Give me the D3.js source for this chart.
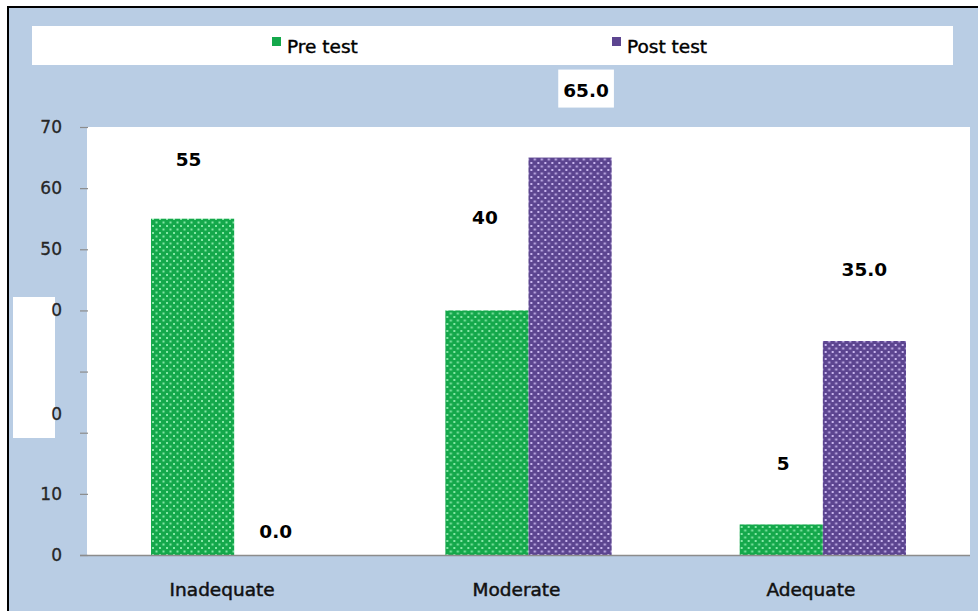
<!DOCTYPE html>
<html>
<head>
<meta charset="utf-8">
<script src="https://cdn.jsdelivr.net/npm/d3@7"></script>
<style>
  html, body { margin: 0; padding: 0; background: #ffffff; }
  svg { display: block; }
</style>
</head>
<body>
<svg id="chart" width="978" height="611"></svg>
<script>
// ---- data ----
const categories = ["Inadequate", "Moderate", "Adequate"];
const seriesNames = ["Pre test", "Post test"];
const preTest = [55, 40, 5];
const postTest = [0.0, 65.0, 35.0];
const preLabels = ["55", "40", "5"];
const postLabels = ["0.0", "65.0", "35.0"];
const yTickValues = [0, 10, 20, 30, 40, 50, 60, 70];
const yTickLabels = ["0", "10", "0", "", "0", "50", "60", "70"];

// ---- layout ----
const W = 978, H = 611;
const plot = { left: 87, right: 970, top: 127, bottom: 555 };
const colors = { pre: "#14a84b", preDot: "#86e7a6", post: "#5c4590", postDot: "#c9b6ee" };
const FONT = "DejaVu Sans, sans-serif";
// hand-placed data-label nudges [dx, dy from bar top]
const preLabelNudge = [[-4, -53], [-2, -86], [2, -54]];
const postLabelNudge = [[0, -17], [16, -61], [0, -65]];
// tick label vertical nudges (label for 20 sits a bit higher)
const tickNudge = { 20: -19 };

const svg = d3.select("#chart");

// dotted fills
const defs = svg.append("defs");
function dotPattern(id, base, dot) {
  const s = 7;
  const p = defs.append("pattern").attr("id", id)
    .attr("patternUnits", "userSpaceOnUse").attr("width", s).attr("height", s);
  p.append("rect").attr("width", s).attr("height", s).attr("fill", base);
  p.append("rect").attr("x", 1).attr("y", 1).attr("width", 2).attr("height", 2).attr("fill", dot);
  p.append("rect").attr("x", 4.5).attr("y", 4.5).attr("width", 2).attr("height", 2).attr("fill", dot);
}
dotPattern("dotsPre", colors.pre, colors.preDot);
dotPattern("dotsPost", colors.post, colors.postDot);

// chart background with frame on top/left
svg.append("rect").attr("x", 8).attr("y", 7).attr("width", W - 8).attr("height", H - 7)
  .attr("fill", "#b9cde4");
svg.append("line").attr("x1", 7).attr("x2", W).attr("y1", 7).attr("y2", 7)
  .attr("stroke", "#000").attr("stroke-width", 2);
svg.append("line").attr("x1", 8).attr("x2", 8).attr("y1", 6).attr("y2", H)
  .attr("stroke", "#000").attr("stroke-width", 2);

// plot area
svg.append("rect").attr("x", plot.left).attr("y", plot.top)
  .attr("width", plot.right - plot.left).attr("height", plot.bottom - plot.top)
  .attr("fill", "#ffffff");

// scales
const x0 = d3.scaleBand().domain(categories).range([plot.left, plot.right])
  .paddingInner(0.435).paddingOuter(0.2175);
const x1 = d3.scaleBand().domain(seriesNames).range([0, x0.bandwidth()]);
const y = d3.scaleLinear().domain([0, 70]).range([plot.bottom, plot.top]);

// white patch over part of the value labels
svg.append("rect").attr("x", 13).attr("y", 297).attr("width", 42).attr("height", 141)
  .attr("fill", "#ffffff");

// y axis
const yAxis = d3.axisLeft(y).tickValues(yTickValues)
  .tickFormat((d, i) => yTickLabels[i]).tickSize(8).tickPadding(18);
const gy = svg.append("g").attr("transform", `translate(${plot.left + 1},0)`).call(yAxis);
gy.select(".domain").remove();
gy.selectAll(".tick line").attr("stroke", "#8c8c8c").attr("stroke-width", 1.2);
gy.selectAll(".tick text")
  .attr("font-family", FONT).attr("font-size", 17)
  .attr("fill", "#262626").attr("stroke", "#262626").attr("stroke-width", 0.3)
  .attr("transform", d => tickNudge[d] ? `translate(0,${tickNudge[d]})` : null);

// bars
const rows = categories.map((c, i) => ({ cat: c, pre: preTest[i], post: postTest[i], i }));
const groups = svg.append("g").selectAll("g").data(rows).join("g")
  .attr("transform", d => `translate(${x0(d.cat)},0)`);
groups.append("rect")
  .attr("x", x1("Pre test")).attr("width", x1.bandwidth())
  .attr("y", d => y(d.pre)).attr("height", d => y(0) - y(d.pre))
  .attr("fill", "url(#dotsPre)");
groups.append("rect")
  .attr("x", x1("Post test")).attr("width", x1.bandwidth())
  .attr("y", d => y(d.post)).attr("height", d => y(0) - y(d.post))
  .attr("fill", "url(#dotsPost)");

// baseline
svg.append("line").attr("x1", plot.left - 7).attr("x2", plot.right)
  .attr("y1", plot.bottom + 0.5).attr("y2", plot.bottom + 0.5)
  .attr("stroke", "#8c8c8c").attr("stroke-width", 1.5);

// data labels
function addLabel(text, cx, by) {
  const g = svg.append("g");
  const t = g.append("text").attr("x", cx).attr("y", by).attr("text-anchor", "middle")
    .attr("font-family", FONT).attr("font-weight", "bold")
    .attr("font-size", 18.5).attr("fill", "#000").text(text);
  const bb = t.node().getBBox();
  g.insert("rect", "text").attr("x", bb.x - 5).attr("y", bb.y - 10)
    .attr("width", bb.width + 10).attr("height", bb.height + 17).attr("fill", "#ffffff");
}
rows.forEach((d, i) => {
  addLabel(preLabels[i],
    x0(d.cat) + x1("Pre test") + x1.bandwidth() / 2 + preLabelNudge[i][0],
    y(d.pre) + preLabelNudge[i][1]);
  addLabel(postLabels[i],
    x0(d.cat) + x1("Post test") + x1.bandwidth() / 2 + postLabelNudge[i][0],
    y(d.post) + postLabelNudge[i][1]);
});

// category labels
svg.append("g").selectAll("text").data(categories).join("text")
  .attr("x", d => x0(d) + x0.bandwidth() / 2 - 12).attr("y", 596)
  .attr("text-anchor", "middle")
  .attr("font-family", FONT).attr("font-size", 18.5)
  .attr("fill", "#111").attr("stroke", "#111").attr("stroke-width", 0.5)
  .text(d => d);

// legend
svg.append("rect").attr("x", 32).attr("y", 26).attr("width", 921).attr("height", 39)
  .attr("fill", "#ffffff");
const legendX = [272, 612];
const legend = svg.append("g").selectAll("g").data(seriesNames).join("g")
  .attr("transform", (d, i) => `translate(${legendX[i]},0)`);
legend.append("rect").attr("x", 0).attr("y", 37).attr("width", 9).attr("height", 9)
  .attr("fill", (d, i) => i === 0 ? colors.pre : colors.post);
legend.append("text").attr("x", 15).attr("y", 53)
  .attr("font-family", FONT).attr("font-size", 18.5)
  .attr("fill", "#000").attr("stroke", "#000").attr("stroke-width", 0.4)
  .text(d => d);
</script>
</body>
</html>
